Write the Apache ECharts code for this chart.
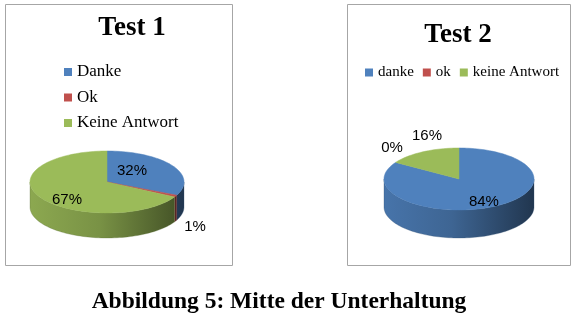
<!DOCTYPE html>
<html><head><meta charset="utf-8">
<script src="https://cdn.jsdelivr.net/npm/echarts@6/dist/echarts.min.js"></script>
<style>html,body{margin:0;padding:0;background:#fff}#c{width:580px;height:326px}</style>
</head><body><div id="c"></div>
<script>
// ---- data ----
const cats1 = ['Danke', 'Ok', 'Keine Antwort'];
const vals1 = [32, 1, 67];
const cats2 = ['danke', 'ok', 'keine Antwort'];
const vals2 = [84, 0, 16];
const title1 = 'Test 1';
const title2 = 'Test 2';
const caption = 'Abbildung 5: Mitte der Unterhaltung';

// ---- style / layout ----
const colors = ['#4F81BD', '#C0504D', '#9BBB59'];
const geo1 = {cx: 107, cy: 182, rx: 77, ry: 31, depth: 25};
const geo2 = {cx: 459, cy: 179, rx: 75, ry: 31, depth: 28};
// label placement: [radius factor, vertical nudge]
const lab1 = [[0.385, -4.6], [1.283, 27], [0.603, 8.5]];
const lab2 = [[0.69, 4.3], [1.058, -13.4], [0.885, -19]];

function shade(hex, f) {
  const n = parseInt(hex.slice(1), 16);
  const r = Math.round(((n >> 16) & 255) * f), g = Math.round(((n >> 8) & 255) * f), b = Math.round((n & 255) * f);
  return 'rgb(' + r + ',' + g + ',' + b + ')';
}

function makeRender(vals, j, geo, lab) {
  return function (params, api) {
    const sum = vals.reduce((a, b) => a + b, 0);
    let start = 0;
    for (let i = 0; i < j; i++) start += vals[i];
    const v = api.value(0);
    const a0 = start / sum * 360, a1 = (start + v) / sum * 360;
    const pt = (deg, dy) => {
      const r = deg * Math.PI / 180;
      return [geo.cx + geo.rx * Math.sin(r), geo.cy - geo.ry * Math.cos(r) + (dy || 0)];
    };
    const children = [];
    const col = colors[j];
    if (a1 > a0) {
      const s0 = Math.max(a0, 90), s1 = Math.min(a1, 270);
      if (s1 > s0) {
        const pts = [];
        const n = Math.max(2, Math.ceil((s1 - s0) / 2));
        for (let k = 0; k <= n; k++) pts.push(pt(s0 + (s1 - s0) * k / n));
        for (let k = n; k >= 0; k--) pts.push(pt(s0 + (s1 - s0) * k / n, geo.depth));
        children.push({
          type: 'polygon', z2: 1, shape: {points: pts},
          style: {
            fill: {type: 'linear', x: geo.cx - geo.rx, y: 0, x2: geo.cx + geo.rx, y2: 0, global: true,
              colorStops: [{offset: 0, color: shade(col, 0.9)}, {offset: 0.45, color: shade(col, 0.78)}, {offset: 1, color: shade(col, 0.42)}]},
            stroke: shade(col, 0.6), lineWidth: 0.3
          }
        });
      }
      const tp = [[geo.cx, geo.cy]];
      const n2 = Math.max(2, Math.ceil((a1 - a0) / 2));
      for (let k = 0; k <= n2; k++) tp.push(pt(a0 + (a1 - a0) * k / n2));
      children.push({type: 'polygon', z2: 10, shape: {points: tp}, style: {fill: col, stroke: col, lineWidth: 0.5}});
    }
    const mid = (a0 + a1) / 2, r = mid * Math.PI / 180;
    const L = lab[j];
    children.push({
      type: 'text', z2: 20,
      style: {
        text: Math.round(v / sum * 100) + '%',
        x: geo.cx + geo.rx * L[0] * Math.sin(r),
        y: geo.cy - geo.ry * L[0] * Math.cos(r) + L[1],
        align: 'center', verticalAlign: 'middle',
        font: '15px "Liberation Sans", Arial, sans-serif', fill: '#000'
      }
    });
    return {type: 'group', children: children};
  };
}

const series = [];
cats1.forEach((c, j) => series.push({
  type: 'custom', name: c, coordinateSystem: 'none', data: [vals1[j]],
  itemStyle: {color: colors[j]}, renderItem: makeRender(vals1, j, geo1, lab1)
}));
cats2.forEach((c, j) => series.push({
  type: 'custom', name: c, coordinateSystem: 'none', data: [vals2[j]],
  itemStyle: {color: colors[j]}, renderItem: makeRender(vals2, j, geo2, lab2)
}));

const chart = echarts.init(document.getElementById('c'), null, {renderer: 'canvas'});
chart.setOption({
  animation: false,
  backgroundColor: '#fff',
  legend: [
    {data: cats1, orient: 'vertical', left: 64, top: 63.5, padding: 0, itemGap: 8.5,
      itemWidth: 8, itemHeight: 8, icon: 'rect', selectedMode: false,
      textStyle: {fontFamily: '"Liberation Serif", "Times New Roman", serif', fontSize: 17, color: '#000'}},
    {data: cats2, orient: 'horizontal', left: 365, top: 65, padding: 0, itemGap: 9,
      itemWidth: 8, itemHeight: 8, icon: 'rect', selectedMode: false,
      textStyle: {fontFamily: '"Liberation Serif", "Times New Roman", serif', fontSize: 15, color: '#000'}}
  ],
  graphic: [
    {type: 'rect', shape: {x: 5.5, y: 4.5, width: 227, height: 261}, style: {fill: 'none', stroke: '#a6a6a6', lineWidth: 1}, z: -1},
    {type: 'rect', shape: {x: 347.5, y: 4.5, width: 223, height: 261}, style: {fill: 'none', stroke: '#a6a6a6', lineWidth: 1}, z: -1},
    {type: 'text', style: {text: title1, x: 132, y: 28, align: 'center', verticalAlign: 'middle',
      font: 'bold 27px "Liberation Serif", "Times New Roman", serif', fill: '#000'}},
    {type: 'text', style: {text: title2, x: 458, y: 35, align: 'center', verticalAlign: 'middle',
      font: 'bold 27px "Liberation Serif", "Times New Roman", serif', fill: '#000'}},
    {type: 'text', style: {text: caption, x: 279, y: 302, align: 'center', verticalAlign: 'middle',
      font: 'bold 23.5px "Liberation Serif", "Times New Roman", serif', fill: '#000'}}
  ],
  series: series
});
</script></body></html>
